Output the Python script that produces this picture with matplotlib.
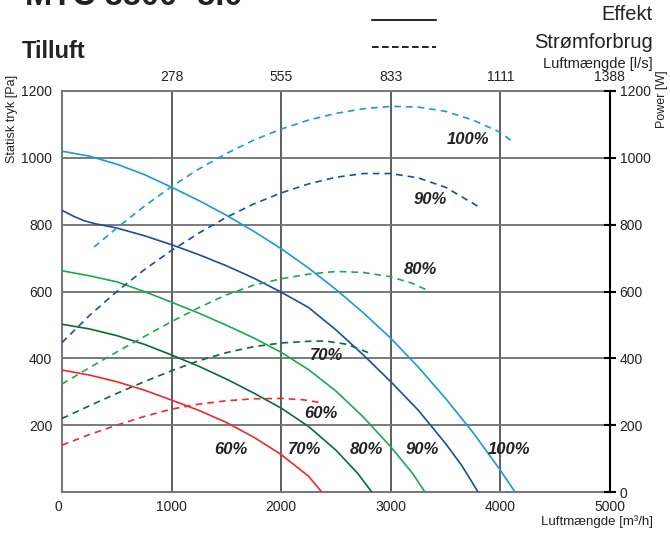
import matplotlib.pyplot as plt
from matplotlib.lines import Line2D

plt.rcParams['font.family'] = ['Liberation Sans', 'DejaVu Sans']

# fan speed steps and colours
speeds = ['60%', '70%', '80%', '90%', '100%']
colors = ['#ee2a2a', '#0b6b35', '#1aab4b', '#1f4c9e', '#1a9ad7']

# static pressure curves [Pa] vs airflow [m3/h]
p60_x = [0, 250, 500, 750, 1000, 1250, 1500, 1750, 2000, 2250, 2370]
p60_y = [365, 350, 330, 305, 275, 244, 208, 164, 112, 47, 0]
p70_x = [0, 250, 500, 750, 1000, 1250, 1500, 1750, 2000, 2250, 2500, 2700, 2826]
p70_y = [502, 488, 468, 442, 410, 376, 338, 296, 251, 196, 125, 55, 0]
p80_x = [0, 250, 500, 750, 1000, 1250, 1500, 1750, 2000, 2250, 2500, 2750, 3000, 3200, 3312]
p80_y = [662, 647, 629, 600, 568, 535, 499, 461, 418, 366, 302, 224, 135, 55, 0]
p90_x = [0, 100, 200, 300, 500, 750, 1000, 1250, 1500, 1750, 2000, 2250, 2500, 2750, 3000, 3250, 3500, 3650, 3796]
p90_y = [843, 826, 812, 803, 790, 767, 740, 710, 677, 640, 598, 552, 485, 410, 330, 245, 145, 78, 0]
p100_x = [0, 250, 500, 750, 1000, 1250, 1500, 1750, 2000, 2250, 2500, 2750, 3000, 3250, 3500, 3750, 4000, 4133]
p100_y = [1020, 1005, 981, 950, 912, 872, 828, 780, 728, 670, 606, 536, 460, 374, 280, 178, 65, 0]

# power curves [W] vs airflow [m3/h]
w60_x = [0, 250, 500, 750, 1000, 1250, 1500, 1750, 2000, 2200, 2370]
w60_y = [140, 172, 200, 226, 248, 263, 273, 279, 280, 276, 267]
w70_x = [0, 250, 500, 750, 1000, 1250, 1500, 1750, 2000, 2250, 2400, 2600, 2795]
w70_y = [220, 258, 295, 330, 363, 393, 417, 435, 446, 451, 452, 442, 417]
w80_x = [0, 250, 500, 750, 1000, 1250, 1500, 1750, 2000, 2250, 2500, 2750, 3000, 3200, 3358]
w80_y = [323, 372, 419, 465, 510, 552, 590, 619, 638, 652, 660, 657, 644, 624, 600]
w90_x = [0, 250, 500, 750, 1000, 1250, 1500, 1750, 2000, 2250, 2500, 2750, 3000, 3250, 3500, 3805]
w90_y = [447, 528, 600, 665, 723, 775, 822, 862, 895, 922, 942, 953, 953, 940, 912, 853]
w100_x = [292, 500, 750, 1000, 1250, 1500, 1750, 2000, 2250, 2500, 2750, 3000, 3250, 3500, 3750, 4000, 4112]
w100_y = [733, 790, 855, 914, 967, 1013, 1053, 1086, 1113, 1133, 1147, 1154, 1152, 1139, 1113, 1076, 1048]

pressure = [(p60_x, p60_y), (p70_x, p70_y), (p80_x, p80_y), (p90_x, p90_y), (p100_x, p100_y)]
power = [(w60_x, w60_y), (w70_x, w70_y), (w80_x, w80_y), (w90_x, w90_y), (w100_x, w100_y)]

# where the percent labels sit (m3/h, value)
p_label_pos = [(1540, 128), (2208, 128), (2774, 128), (3285, 128), (4078, 128)]
w_label_pos = [(2363, 236), (2409, 407), (3266, 667), (3358, 874), (3704, 1054)]

x_ticks = [0, 1000, 2000, 3000, 4000, 5000]
y_ticks = [0, 200, 400, 600, 800, 1000, 1200]
ls_ticks = [278, 555, 833, 1111, 1388]

W, H = 670, 535
fig = plt.figure(figsize=(W / 100, H / 100), dpi=100)
ax = fig.add_axes([62 / W, 1 - 492 / H, 548 / W, 401 / H])
ax2 = ax.twinx()

for (px, py), (wx, wy), c in zip(pressure, power, colors):
    ax.plot(px, py, color=c, lw=1.2, zorder=3)
    ax2.plot(wx, wy, color=c, lw=1.2, linestyle=(0, (4, 3)), zorder=3)

for s, (x, y) in zip(speeds, p_label_pos):
    ax.text(x, y, s, ha='center', va='center', fontsize=12,
            fontweight='bold', fontstyle='italic', color='#222222', zorder=4)
for s, (x, y) in zip(speeds, w_label_pos):
    ax2.text(x, y, s, ha='center', va='center', fontsize=12,
             fontweight='bold', fontstyle='italic', color='#222222', zorder=4)

ax.set_xlim(0, 5000)
ax.set_ylim(0, 1200)
ax2.set_ylim(0, 1200)

ax.set_xticks(x_ticks)
ax.set_yticks(y_ticks)
ax.set_yticklabels([''] + [str(v) for v in y_ticks[1:]])
ax.tick_params(axis='both', length=0, labelsize=10, labelcolor='#222222')
ax.tick_params(axis='x', pad=6)
ax.tick_params(axis='y', pad=7)
ax.get_xticklabels()[0].set_horizontalalignment('right')

ax.xaxis.grid(True, color='#333333', lw=1.1)
ax.yaxis.grid(True, color='#707070', lw=1.3)
ax.set_axisbelow(True)
for side in ['left', 'bottom', 'top']:
    ax.spines[side].set_color('#7a7a7a')
    ax.spines[side].set_linewidth(1.5)
ax.spines['right'].set_visible(False)

ax2.set_yticks(y_ticks)
ax2.tick_params(axis='y', direction='inout', length=8, width=1.5,
                color='black', labelsize=10, labelcolor='#222222', pad=3)
for side in ['left', 'bottom', 'top']:
    ax2.spines[side].set_visible(False)
ax2.spines['right'].set_color('black')
ax2.spines['right'].set_linewidth(1.5)

top = ax.secondary_xaxis('top', functions=(lambda x: x / 3.6, lambda x: x * 3.6))
top.set_xticks(ls_ticks)
top.set_xticklabels([str(v) for v in ls_ticks])
top.tick_params(length=0, labelsize=10, labelcolor='#222222', pad=5)
top.spines['top'].set_visible(False)

# axis titles
fig.text(12 / W, 1 - 119 / H, 'Statisk tryk [Pa]', rotation=90, ha='center', va='center',
         fontsize=9, color='#222222')
fig.text(662 / W, 1 - 99 / H, 'Power [W]', rotation=90, ha='center', va='center',
         fontsize=9, color='#222222')
fig.text(653 / W, 1 - 522 / H, 'Luftmængde [m³/h]', ha='right', va='center',
         fontsize=9.5, color='#222222')
fig.text(653 / W, 1 - 64 / H, 'Luftmængde [l/s]', ha='right', va='center',
         fontsize=10.5, color='#222222')

# header
fig.text(25 / W, 1 - 5 / H, 'MTC 3500 -5.0', ha='left', va='baseline',
         fontsize=23.5, fontweight='bold', color='#222222')
fig.text(22 / W, 1 - 51 / H, 'Tilluft', ha='left', va='center',
         fontsize=17, fontweight='bold', color='#222222')
fig.text(653 / W, 1 - 15 / H, 'Effekt', ha='right', va='center',
         fontsize=14.5, color='#222222')
fig.text(653 / W, 1 - 42 / H, 'Strømforbrug', ha='right', va='center',
         fontsize=14.5, color='#222222')
fig.add_artist(Line2D([372 / W, 436 / W], [1 - 20 / H, 1 - 20 / H], color='black', lw=1.2))
fig.add_artist(Line2D([372 / W, 436 / W], [1 - 47 / H, 1 - 47 / H], color='black', lw=1.2,
                      linestyle=(0, (4, 2))))

fig.savefig('out.png', dpi=100)
